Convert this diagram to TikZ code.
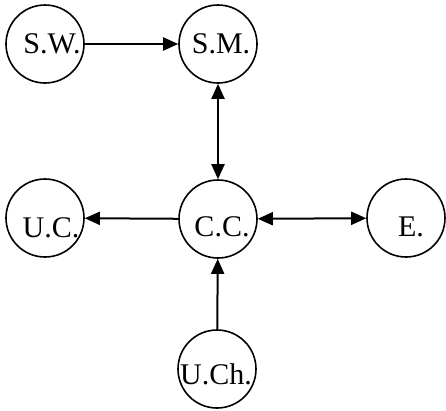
\documentclass[tikz,border=0pt]{standalone}
\usepackage{fontspec}
\setmainfont{Liberation Serif}
\usetikzlibrary{arrows.meta}
\begin{document}
\begin{tikzpicture}[x=1bp,y=-1bp,
  state/.style={draw=black,circle,line width=1.6bp,minimum size=78bp,inner sep=0pt},
  txt/.style={anchor=base,inner sep=0pt,font=\fontsize{30bp}{36bp}\selectfont},
  conn/.style={line width=2bp,-{Triangle[length=15bp,width=13bp]}},
  bconn/.style={line width=2bp,{Triangle[length=15bp,width=13bp]}-{Triangle[length=15bp,width=13bp]}}]
\useasboundingbox (0,0) rectangle (446,410);
\fill[white] (0,0) rectangle (446,410);
\node[state] (SW) at (45,44) {};
\node[state] (SM) at (218,44) {};
\node[state] (UC) at (45,218) {};
\node[state] (CC) at (218,219) {};
\node[state] (E) at (406,218) {};
\node[state] (UCh) at (217,369) {};
\node[txt] (tSW) at (52,53) {S.W.};
\node[txt] (tSM) at (221,53) {S.M.};
\node[txt] (tUC) at (51,237) {U.C.};
\node[txt] (tCC) at (222,236) {C.C.};
\node[txt] (tE) at (411,236) {E.};
\node[txt] (tUCh) at (216,384) {U.Ch.};
\draw[conn] (SW) -- (SM);
\draw[bconn] (SM) -- (CC);
\draw[conn] (CC) -- (UC);
\draw[bconn] (CC) -- (E);
\draw[conn] (UCh) -- (CC);
\end{tikzpicture}
\end{document}
